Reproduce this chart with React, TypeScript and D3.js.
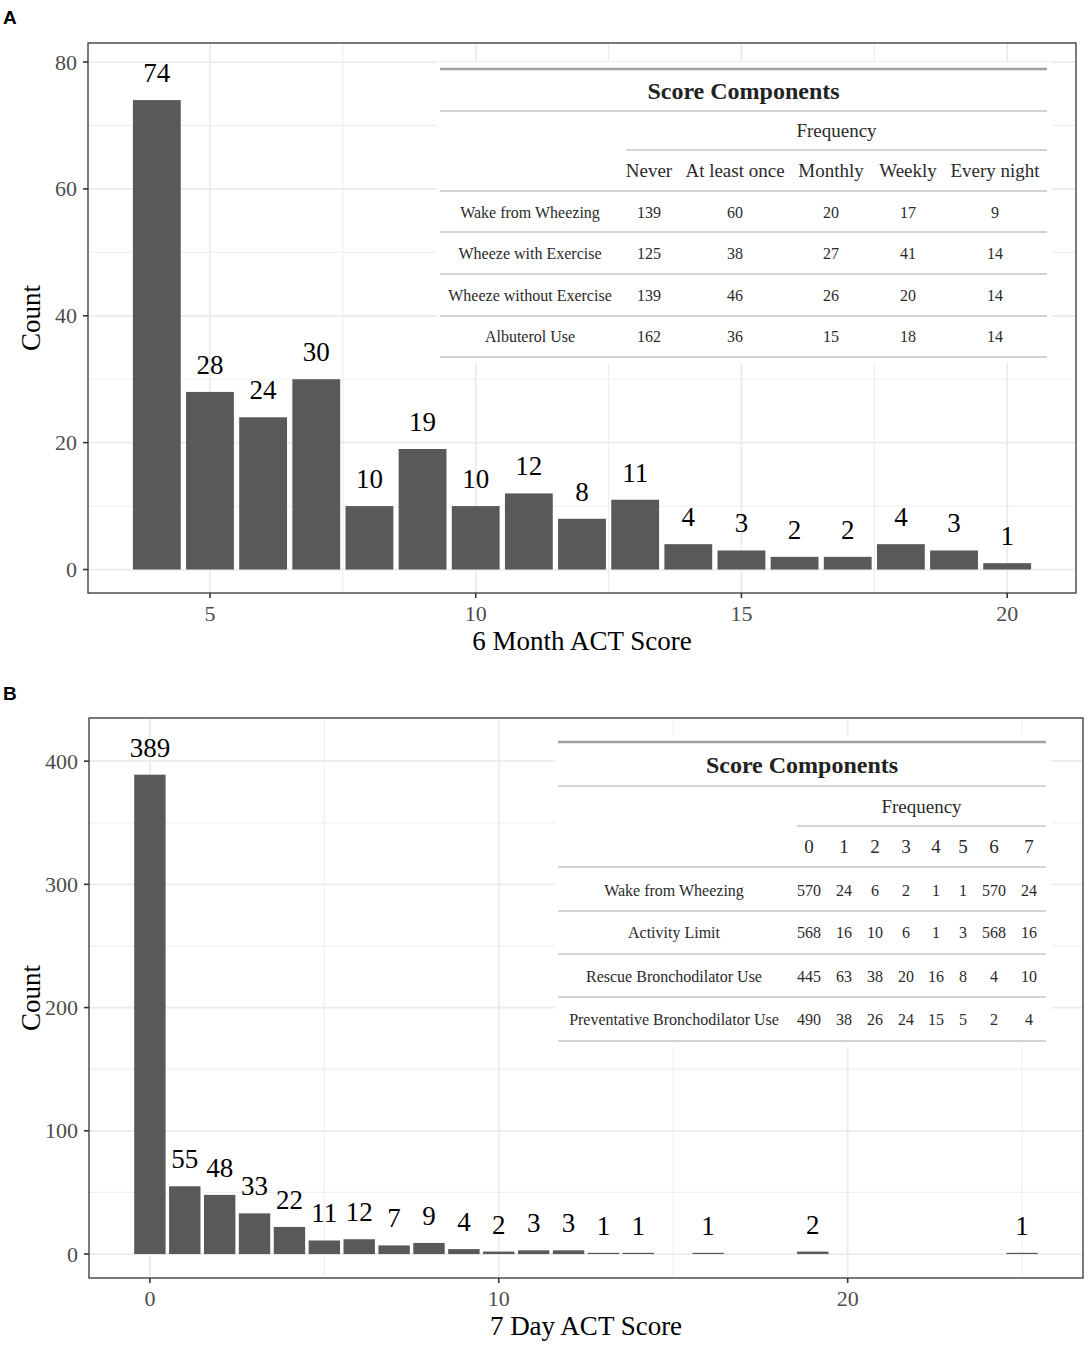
import React from 'react';
import * as d3 from 'd3';

// ---- data ----
const scoresA = [4, 5, 6, 7, 8, 9, 10, 11, 12, 13, 14, 15, 16, 17, 18, 19, 20];
const countsA = [74, 28, 24, 30, 10, 19, 10, 12, 8, 11, 4, 3, 2, 2, 4, 3, 1];
const xTicksA = [5, 10, 15, 20];
const yTicksA = [0, 20, 40, 60, 80];

const scoresB = [0, 1, 2, 3, 4, 5, 6, 7, 8, 9, 10, 11, 12, 13, 14, 16, 19, 25];
const countsB = [389, 55, 48, 33, 22, 11, 12, 7, 9, 4, 2, 3, 3, 1, 1, 1, 2, 1];
const xTicksB = [0, 10, 20];
const yTicksB = [0, 100, 200, 300, 400];

const tableAColumns = ['Never', 'At least once', 'Monthly', 'Weekly', 'Every night'];
const tableARows = ['Wake from Wheezing', 'Wheeze with Exercise', 'Wheeze without Exercise', 'Albuterol Use'];
const tableAValues = [
  [139, 60, 20, 17, 9],
  [125, 38, 27, 41, 14],
  [139, 46, 26, 20, 14],
  [162, 36, 15, 18, 14],
];

const tableBColumns = ['0', '1', '2', '3', '4', '5', '6', '7'];
const tableBRows = ['Wake from Wheezing', 'Activity Limit', 'Rescue Bronchodilator Use', 'Preventative Bronchodilator Use'];
const tableBValues = [
  [570, 24, 6, 2, 1, 1, 570, 24],
  [568, 16, 10, 6, 1, 3, 568, 16],
  [445, 63, 38, 20, 16, 8, 4, 10],
  [490, 38, 26, 24, 15, 5, 2, 4],
];

const SERIF = '"Liberation Serif", "Times New Roman", serif';
const SANS = '"Liberation Sans", Arial, sans-serif';

interface TableLayout {
  left: number;
  right: number;
  top: number;        // thick top rule
  titleY: number;     // title baseline
  rule2: number;
  spannerY: number;   // "Frequency" baseline
  spannerRule: number;
  spannerLeft: number;
  headerY: number;
  headerRule: number;
  rowY: number[];     // row baselines
  rowRules: number[];
  labelX: number;
  colX: number[];
}

function ScoreTable({ columns, rows, values, L }: { columns: string[]; rows: string[]; values: number[][]; L: TableLayout }) {
  const light = '#D3D3D3';
  return (
    <g fontFamily={SERIF}>
      <rect x={L.left - 3} y={L.top - 7} width={L.right - L.left + 8} height={L.rowRules[L.rowRules.length - 1] - L.top + 13} fill="#fff" />
      <line x1={L.left} x2={L.right} y1={L.top} y2={L.top} stroke="#A0A0A0" strokeWidth={2.5} />
      <text x={(L.left + L.right) / 2} y={L.titleY} textAnchor="middle" fontWeight="bold" fontSize={24} fill="#222">Score Components</text>
      <line x1={L.left} x2={L.right} y1={L.rule2} y2={L.rule2} stroke={light} strokeWidth={2} />
      <text x={(L.spannerLeft + L.right) / 2} y={L.spannerY} textAnchor="middle" fontSize={19} fill="#2a2a2a">Frequency</text>
      <line x1={L.spannerLeft} x2={L.right} y1={L.spannerRule} y2={L.spannerRule} stroke={light} strokeWidth={2} />
      {columns.map((c, i) => (
        <text key={c} x={L.colX[i]} y={L.headerY} textAnchor="middle" fontSize={19} fill="#2a2a2a">{c}</text>
      ))}
      <line x1={L.left} x2={L.right} y1={L.headerRule} y2={L.headerRule} stroke={light} strokeWidth={2} />
      {rows.map((r, ri) => (
        <g key={r}>
          <text x={L.labelX} y={L.rowY[ri]} textAnchor="middle" fontSize={16} fill="#2a2a2a">{r}</text>
          {values[ri].map((v, ci) => (
            <text key={ci} x={L.colX[ci]} y={L.rowY[ri]} textAnchor="middle" fontSize={16} fill="#2a2a2a">{v}</text>
          ))}
          <line x1={L.left} x2={L.right} y1={L.rowRules[ri]} y2={L.rowRules[ri]} stroke={light} strokeWidth={2} />
        </g>
      ))}
    </g>
  );
}

interface PanelProps {
  letter: string;
  letterY: number;
  scores: number[];
  counts: number[];
  xTicks: number[];
  xMinor: number[];
  yTicks: number[];
  yMinor: number[];
  xDomain: [number, number];
  yDomain: [number, number];
  box: { left: number; right: number; top: number; bottom: number };
  xTitle: string;
  children?: React.ReactNode;
}

function Panel(p: PanelProps) {
  const { box } = p;
  const x = d3.scaleLinear().domain(p.xDomain).range([box.left, box.right]);
  const y = d3.scaleLinear().domain(p.yDomain).range([box.bottom, box.top]);
  const bw = x(0.9) - x(0);
  const grid = '#EBEBEB';
  const axisCol = '#333333';
  return (
    <g>
      <text x={3} y={p.letterY} fontFamily={SANS} fontWeight="bold" fontSize={19} fill="#000">{p.letter}</text>
      <rect x={box.left} y={box.top} width={box.right - box.left} height={box.bottom - box.top} fill="#fff" />
      {p.yMinor.map(t => (
        <line key={'ym' + t} x1={box.left} x2={box.right} y1={y(t)} y2={y(t)} stroke={grid} strokeWidth={0.9} />
      ))}
      {p.xMinor.map(t => (
        <line key={'xm' + t} x1={x(t)} x2={x(t)} y1={box.top} y2={box.bottom} stroke={grid} strokeWidth={0.9} />
      ))}
      {p.yTicks.map(t => (
        <line key={'yg' + t} x1={box.left} x2={box.right} y1={y(t)} y2={y(t)} stroke={grid} strokeWidth={1.8} />
      ))}
      {p.xTicks.map(t => (
        <line key={'xg' + t} x1={x(t)} x2={x(t)} y1={box.top} y2={box.bottom} stroke={grid} strokeWidth={1.8} />
      ))}
      {p.scores.map((s, i) => (
        <rect key={'b' + s} x={x(s) - bw / 2} y={y(p.counts[i])} width={bw} height={y(0) - y(p.counts[i])} fill="#595959" />
      ))}
      {p.scores.map((s, i) => (
        <text key={'l' + s} x={x(s)} y={y(p.counts[i]) - 18} textAnchor="middle" fontFamily={SERIF} fontSize={27} fill="#000">{p.counts[i]}</text>
      ))}
      {p.children}
      <rect x={box.left} y={box.top} width={box.right - box.left} height={box.bottom - box.top} fill="none" stroke={axisCol} strokeWidth={1.3} />
      {p.yTicks.map(t => (
        <g key={'yt' + t}>
          <line x1={box.left - 5} x2={box.left} y1={y(t)} y2={y(t)} stroke={axisCol} strokeWidth={1.6} />
          <text x={box.left - 11} y={y(t) + 7.5} textAnchor="end" fontFamily={SERIF} fontSize={22} fill="#4D4D4D">{t}</text>
        </g>
      ))}
      {p.xTicks.map(t => (
        <g key={'xt' + t}>
          <line x1={x(t)} x2={x(t)} y1={box.bottom} y2={box.bottom + 5} stroke={axisCol} strokeWidth={1.6} />
          <text x={x(t)} y={box.bottom + 28} textAnchor="middle" fontFamily={SERIF} fontSize={22} fill="#4D4D4D">{t}</text>
        </g>
      ))}
      <text x={(box.left + box.right) / 2} y={box.bottom + 57} textAnchor="middle" fontFamily={SERIF} fontSize={27} fill="#000">{p.xTitle}</text>
      <text transform={`translate(40, ${(box.top + box.bottom) / 2}) rotate(-90)`} textAnchor="middle" fontFamily={SERIF} fontSize={27} fill="#000">Count</text>
    </g>
  );
}

const layoutA: TableLayout = {
  left: 440, right: 1047, top: 69, titleY: 99, rule2: 111, spannerY: 137, spannerRule: 150, spannerLeft: 626,
  headerY: 177, headerRule: 191, rowY: [218, 259, 301, 342], rowRules: [232, 274, 316, 357],
  labelX: 530, colX: [649, 735, 831, 908, 995],
};

const layoutB: TableLayout = {
  left: 558, right: 1046, top: 742, titleY: 773, rule2: 786, spannerY: 813, spannerRule: 826, spannerLeft: 797,
  headerY: 853, headerRule: 867, rowY: [896, 938, 982, 1025], rowRules: [911, 954, 997, 1041],
  labelX: 674, colX: [809, 844, 875, 906, 936, 963, 994, 1029],
};

export default function App() {
  return (
    <svg width={1092} height={1350} style={{ position: 'absolute', left: 0, top: 0, background: '#fff' }}>
      <rect width={1092} height={1350} fill="#fff" />
      <Panel
        letter="A" letterY={24}
        scores={scoresA} counts={countsA}
        xTicks={xTicksA} xMinor={[7.5, 12.5, 17.5]}
        yTicks={yTicksA} yMinor={[10, 30, 50, 70]}
        xDomain={[2.705, 21.295]} yDomain={[-3.7, 83.0]}
        box={{ left: 88, right: 1076, top: 43, bottom: 593 }}
        xTitle="6 Month ACT Score"
      >
        <ScoreTable columns={tableAColumns} rows={tableARows} values={tableAValues} L={layoutA} />
      </Panel>
      <Panel
        letter="B" letterY={700}
        scores={scoresB} counts={countsB}
        xTicks={xTicksB} xMinor={[5, 15, 25]}
        yTicks={yTicksB} yMinor={[50, 150, 250, 350]}
        xDomain={[-1.745, 26.745]} yDomain={[-19.45, 435]}
        box={{ left: 89, right: 1083, top: 718, bottom: 1278 }}
        xTitle="7 Day ACT Score"
      >
        <ScoreTable columns={tableBColumns} rows={tableBRows} values={tableBValues} L={layoutB} />
      </Panel>
    </svg>
  );
}
